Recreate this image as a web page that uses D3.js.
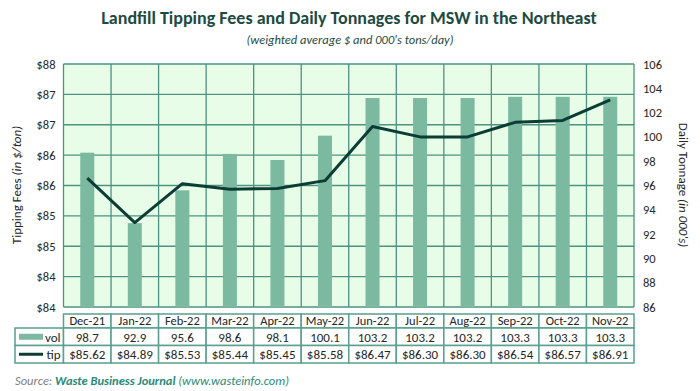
<!DOCTYPE html>
<html><head><meta charset="utf-8">
<script src="https://cdn.jsdelivr.net/npm/d3@7"></script>
<style>
body{margin:0;background:#fff;}
text{font-family:Carlito,Calibri,Lato,"Open Sans",sans-serif;}
</style></head>
<body><svg id="c" width="700" height="391"></svg>
<script>
const categories = ["Dec-21","Jan-22","Feb-22","Mar-22","Apr-22","May-22","Jun-22","Jul-22","Aug-22","Sep-22","Oct-22","Nov-22"];
const volValues = [98.7,92.9,95.6,98.6,98.1,100.1,103.2,103.2,103.2,103.3,103.3,103.3];
const tipValues = [85.62,84.89,85.53,85.44,85.45,85.58,86.47,86.30,86.30,86.54,86.57,86.91];
const leftTicks = [83.5,84,84.5,85,85.5,86,86.5,87,87.5];
const rightTicks = [86,88,90,92,94,96,98,100,102,104,106];

const svg = d3.select("#c");
const L=63.5, R=634, T=64, B=307;
const x = d3.scaleBand().domain(categories).range([L,R]).padding(0);
const yL = d3.scaleLinear().domain([83.5,87.5]).range([B,T]);
const yR = d3.scaleLinear().domain([86,106]).range([B,T]);
const grid="#4e9282", barC="#7bb9a0", lineC="#0b3d35", txt="#262626";

// title
svg.append("text").attr("x",349).attr("y",24).attr("text-anchor","middle")
  .attr("font-size",18).attr("font-weight","bold").attr("fill","#1d4a42")
  .text("Landfill Tipping Fees and Daily Tonnages for MSW in the Northeast");
svg.append("text").attr("x",350).attr("y",44).attr("text-anchor","middle")
  .attr("font-size",12.5).attr("font-style","italic").attr("fill","#1d4a42")
  .text("(weighted average $ and 000's tons/day)");

// plot bg
svg.append("rect").attr("x",L).attr("y",T).attr("width",R-L).attr("height",B-T).attr("fill","#e7fde7");

// horizontal grid
svg.append("g").selectAll("line").data(leftTicks).join("line")
  .attr("x1",L).attr("x2",R).attr("y1",d=>yL(d)).attr("y2",d=>yL(d))
  .attr("stroke",grid).attr("stroke-width",1.3);
// vertical grid
svg.append("g").selectAll("line").data(categories.concat(["__end"])).join("line")
  .attr("x1",(d,i)=>L+i*x.bandwidth()).attr("x2",(d,i)=>L+i*x.bandwidth())
  .attr("y1",T).attr("y2",B).attr("stroke",grid).attr("stroke-width",1.3);

// bars
const bw=14;
svg.append("g").selectAll("rect").data(volValues).join("rect")
  .attr("x",(d,i)=>x(categories[i])+x.bandwidth()/2-bw/2)
  .attr("width",bw).attr("y",d=>yR(d)).attr("height",d=>B-yR(d)).attr("fill",barC);

// line
const line = d3.line().x((d,i)=>x(categories[i])+x.bandwidth()/2).y(d=>yL(d));
svg.append("path").datum(tipValues).attr("d",line).attr("fill","none")
  .attr("stroke",lineC).attr("stroke-width",3).attr("stroke-linejoin","round");

// axes
const axL = d3.axisLeft(yL).tickValues(leftTicks).tickSize(0).tickPadding(8).tickFormat(d=>"$"+Math.round(d+1e-9));
const gL = svg.append("g").attr("transform",`translate(${L},0)`).call(axL);
gL.select(".domain").remove();
gL.selectAll("text").attr("font-size",12.5).attr("fill",txt).style("font-family","Carlito,Calibri,Lato,sans-serif");
const axR = d3.axisRight(yR).tickValues(rightTicks).tickSize(0).tickPadding(9);
const gR = svg.append("g").attr("transform",`translate(${R},0)`).call(axR);
gR.select(".domain").remove();
gR.selectAll("text").attr("font-size",12.5).attr("fill",txt).style("font-family","Carlito,Calibri,Lato,sans-serif");

// axis titles
const lt = svg.append("text").attr("transform","translate(21,185) rotate(-90)").attr("text-anchor","middle")
  .attr("font-size",13).attr("fill",txt);
lt.append("tspan").text("Tipping Fees ");
lt.append("tspan").attr("font-style","italic").text("(in $/ton)");
const rt = svg.append("text").attr("transform","translate(679,185) rotate(90)").attr("text-anchor","middle")
  .attr("font-size",13).attr("fill",txt);
rt.append("tspan").text("Daily Tonnage ");
rt.append("tspan").attr("font-style","italic").text("(in 000's)");

// data table
const tb = "#5a9f8f";
const rowY=[314,328,345.5,363];
const tg = svg.append("g");
// header cells
tg.selectAll("rect.h").data(categories).join("rect").attr("class","h")
  .attr("x",d=>x(d)).attr("y",rowY[0]).attr("width",x.bandwidth()).attr("height",rowY[1]-rowY[0])
  .attr("fill","#fff").attr("stroke",tb).attr("stroke-width",1.5);
tg.selectAll("text.h").data(categories).join("text").attr("class","h")
  .attr("x",d=>x(d)+x.bandwidth()/2).attr("y",rowY[1]-3).attr("text-anchor","middle")
  .attr("font-size",12.5).attr("fill",txt).text(d=>d);
// body rows
const rows=[{key:"vol",vals:volValues.map(v=>v.toFixed(1))},{key:"tip",vals:tipValues.map(v=>"$"+v.toFixed(2))}];
rows.forEach((r,ri)=>{
  const y0=rowY[ri+1], y1=rowY[ri+2];
  tg.append("rect").attr("x",15).attr("y",y0).attr("width",L-15).attr("height",y1-y0)
    .attr("fill","#fff").attr("stroke",tb).attr("stroke-width",1.5);
  tg.selectAll("rect.r"+ri).data(categories).join("rect").attr("class","r"+ri)
    .attr("x",d=>x(d)).attr("y",y0).attr("width",x.bandwidth()).attr("height",y1-y0)
    .attr("fill","#fff").attr("stroke",tb).attr("stroke-width",1.5);
  tg.selectAll("text.r"+ri).data(r.vals).join("text").attr("class","r"+ri)
    .attr("x",(d,i)=>x(categories[i])+x.bandwidth()/2).attr("y",y1-4).attr("text-anchor","middle")
    .attr("font-size",13).attr("fill",txt).text(d=>d);
  tg.append("text").attr("x",L-3).attr("y",y1-4).attr("text-anchor","end").attr("font-size",13).attr("fill",txt).text(r.key);
  if(ri===0){
    tg.append("rect").attr("x",19).attr("y",(y0+y1)/2-3).attr("width",24).attr("height",6).attr("fill",barC);
  } else {
    tg.append("line").attr("x1",19).attr("x2",43).attr("y1",(y0+y1)/2).attr("y2",(y0+y1)/2).attr("stroke",lineC).attr("stroke-width",3);
  }
});

// source
const st = svg.append("text").attr("x",15).attr("y",385).attr("font-size",12.5).attr("font-style","italic");
st.append("tspan").attr("fill","#808080").text("Source: ");
st.append("tspan").attr("fill","#2a8a7a").attr("font-weight","bold").text("Waste Business Journal");
st.append("tspan").attr("fill","#2a8a7a").text(" (www.wasteinfo.com)");
</script></body></html>
